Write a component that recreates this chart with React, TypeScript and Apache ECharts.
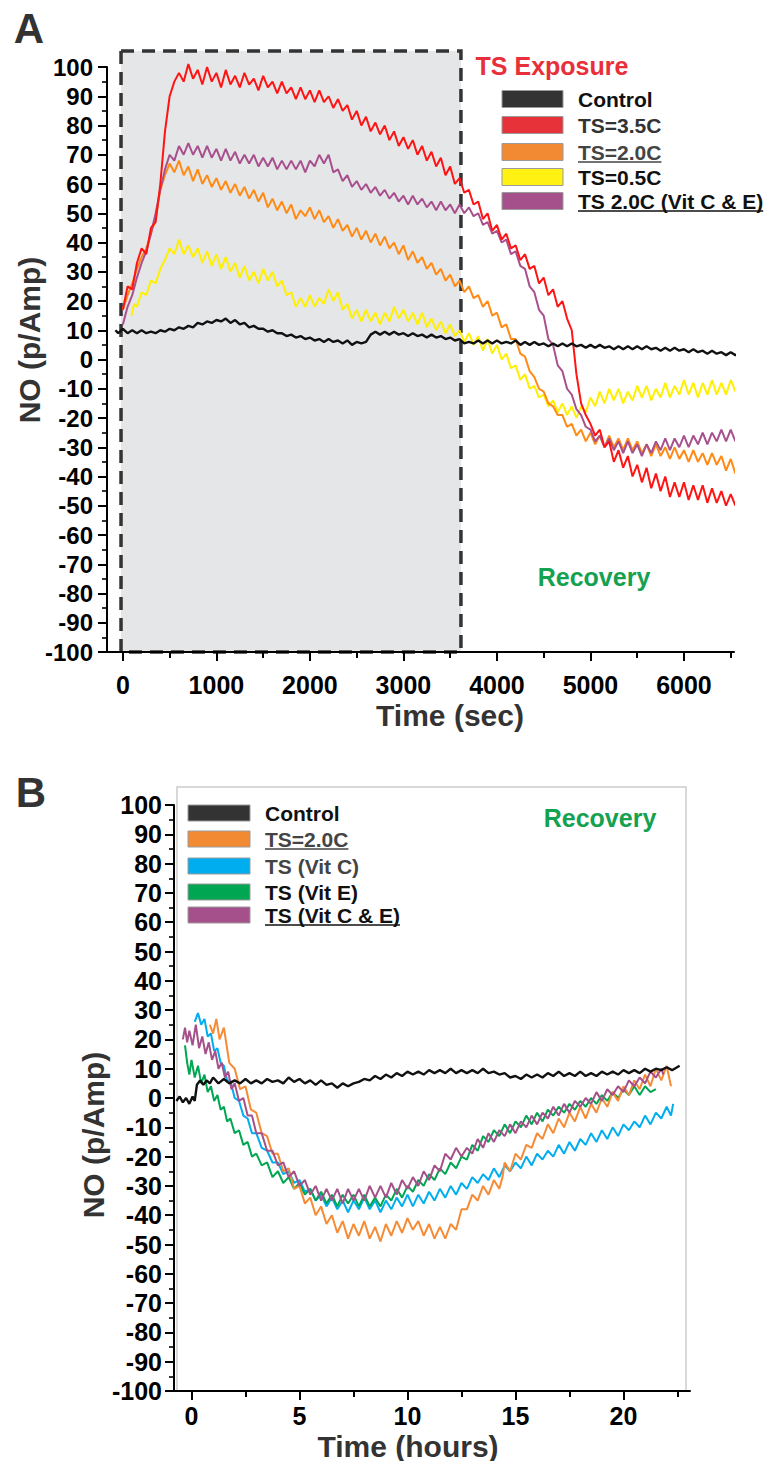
import React, { useEffect, useRef } from 'react';
import * as echarts from 'echarts';

const FONT = '"Liberation Sans", Arial, Helvetica, sans-serif';

// ---------------- Panel A (exposure) ----------------
const ticksA = [0, 1000, 2000, 3000, 4000, 5000, 6000];
const minorTicksA = [500, 1500, 2500, 3500, 4500, 5500, 6500];
const exposureWindow = [-20, 3615];
const exposureTop = 105.5;

const legendA = ['Control', 'TS=3.5C', 'TS=2.0C', 'TS=0.5C', 'TS 2.0C (Vit C & E)'];
const legendAColors = ['#333333', '#e8323a', '#f28a33', '#fff212', '#a5508a'];
const legendATextColors = ['#111111', '#333333', '#444444', '#111111', '#111111'];
const legendAUnderline = [false, false, true, false, true];

const controlA: [number, number][] = [[-80,10],[-50,9],[0,10.5],[50,9],[100,10],[150,9],[200,10],[250,9],[300,9.5],[350,9],[400,10],[450,9.5],[500,10.5],[550,10],[600,11],[650,10.5],[700,11.5],[750,11],[800,12.5],[850,12],[900,13],[950,12.5],[1000,13.5],[1050,13],[1100,14],[1150,12.5],[1200,13.5],[1250,12],[1300,12.5],[1350,11],[1400,11.5],[1450,10.5],[1500,10.5],[1550,9.5],[1600,10],[1650,9],[1700,9],[1750,8],[1800,8.5],[1850,7.5],[1900,8],[1950,7],[2000,7.5],[2050,6.5],[2100,7],[2150,6],[2200,7],[2250,6],[2300,6.5],[2350,5.5],[2400,6.5],[2450,5],[2500,6],[2550,5.5],[2600,6],[2650,8.5],[2700,9.5],[2750,8.5],[2800,9.5],[2850,8.5],[2900,9.5],[2950,8.5],[3000,9],[3050,8],[3100,9],[3150,8],[3200,8.5],[3250,7.5],[3300,8.5],[3350,7.5],[3400,8],[3450,7],[3500,7.5],[3550,6.5],[3600,7],[3650,5.5],[3700,6],[3750,5.5],[3800,6.5],[3850,5.5],[3900,6.5],[3950,5.5],[4000,6.5],[4050,5.5],[4100,6],[4150,5.5],[4200,6.5],[4250,5],[4300,6],[4350,5],[4400,6],[4450,5],[4500,5.5],[4550,4.5],[4600,5.5],[4650,4.5],[4700,5.5],[4750,4.5],[4800,5.5],[4850,4.5],[4900,5],[4950,4],[5000,5],[5050,4],[5100,5],[5150,4],[5200,4.5],[5250,3.5],[5300,4.5],[5350,3.5],[5400,4.5],[5450,3.5],[5500,4.5],[5550,3.5],[5600,4.5],[5650,3.5],[5700,4],[5750,3],[5800,4],[5850,3],[5900,4],[5950,3],[6000,3.5],[6050,2.5],[6100,3.5],[6150,2.5],[6200,3],[6250,2],[6300,3],[6350,2],[6400,2.5],[6450,1.5],[6500,2.5],[6550,1.5],[6600,2],[6650,1],[6680,1.5]];

const ts35A: [number, number][] = [[0,17],[50,25],[100,24],[150,33],[200,38],[250,36],[300,45],[350,47],[400,60],[450,78],[500,90],[550,95],[600,98],[650,95],[700,101],[750,96],[800,99],[850,94],[900,100],[950,95],[1000,98],[1050,93],[1100,99],[1150,94],[1200,97],[1250,93],[1300,98],[1350,94],[1400,96],[1450,92],[1500,97],[1550,93],[1600,95],[1650,91],[1700,95],[1750,91],[1800,93],[1850,89],[1900,93],[1950,89],[2000,92],[2050,88],[2100,92],[2150,88],[2200,90],[2250,86],[2300,89],[2350,85],[2400,87],[2450,82],[2500,85],[2550,80],[2600,83],[2650,78],[2700,81],[2750,77],[2800,80],[2850,75],[2900,78],[2950,73],[3000,76],[3050,72],[3100,75],[3150,70],[3200,73],[3250,68],[3300,71],[3350,66],[3400,69],[3450,63],[3500,66],[3550,60],[3600,62],[3650,57],[3700,58],[3750,53],[3800,54],[3850,48],[3900,50],[3950,44],[4000,46],[4050,41],[4100,43],[4150,38],[4200,39],[4250,34],[4300,36],[4350,31],[4400,32],[4450,26],[4500,28],[4550,22],[4600,24],[4650,18],[4700,20],[4750,14],[4800,10],[4850,-5],[4900,-15],[4950,-19],[5000,-22],[5050,-26],[5100,-24],[5150,-30],[5200,-28],[5250,-35],[5300,-31],[5350,-37],[5400,-33],[5450,-40],[5500,-36],[5550,-42],[5600,-37],[5650,-44],[5700,-39],[5750,-45],[5800,-40],[5850,-47],[5900,-42],[5950,-47],[6000,-42],[6050,-48],[6100,-43],[6150,-48],[6200,-43],[6250,-49],[6300,-44],[6350,-49],[6400,-45],[6450,-50],[6500,-46],[6550,-50]];

const ts20A: [number, number][] = [[0,17],[50,22],[100,26],[150,31],[200,35],[250,38],[300,43],[350,48],[400,58],[450,63],[500,67],[550,64],[600,68],[650,63],[700,66],[750,61],[800,65],[850,60],[900,63],[950,59],[1000,62],[1050,58],[1100,61],[1150,57],[1200,60],[1250,56],[1300,59],[1350,55],[1400,58],[1450,54],[1500,57],[1550,52],[1600,55],[1650,51],[1700,54],[1750,50],[1800,53],[1850,48],[1900,51],[1950,49],[2000,52],[2050,48],[2100,51],[2150,47],[2200,49],[2250,45],[2300,48],[2350,44],[2400,46],[2450,42],[2500,45],[2550,41],[2600,44],[2650,40],[2700,43],[2750,39],[2800,42],[2850,38],[2900,40],[2950,36],[3000,39],[3050,34],[3100,37],[3150,33],[3200,35],[3250,31],[3300,33],[3350,29],[3400,31],[3450,27],[3500,29],[3550,25],[3600,27],[3650,23],[3700,25],[3750,21],[3800,22],[3850,18],[3900,20],[3950,15],[4000,16],[4050,11],[4100,12],[4150,7],[4200,7],[4250,2],[4300,1],[4350,-4],[4400,-6],[4450,-10],[4500,-11],[4550,-15],[4600,-16],[4650,-19],[4700,-19],[4750,-23],[4800,-22],[4850,-26],[4900,-24],[4950,-28],[5000,-25],[5050,-29],[5100,-26],[5150,-30],[5200,-26],[5250,-30],[5300,-27],[5350,-31],[5400,-27],[5450,-31],[5500,-28],[5550,-32],[5600,-29],[5650,-33],[5700,-29],[5750,-33],[5800,-30],[5850,-34],[5900,-30],[5950,-34],[6000,-31],[6050,-35],[6100,-31],[6150,-35],[6200,-32],[6250,-36],[6300,-32],[6350,-36],[6400,-33],[6450,-38],[6500,-34],[6550,-39]];

const ts05A: [number, number][] = [[90,15],[120,19],[150,18],[200,23],[250,22],[300,27],[350,26],[400,31],[450,34],[500,38],[550,36],[600,41],[650,36],[700,39],[750,35],[800,38],[850,33],[900,37],[950,32],[1000,36],[1050,31],[1100,35],[1150,30],[1200,33],[1250,28],[1300,32],[1350,27],[1400,30],[1450,26],[1500,31],[1550,27],[1600,30],[1650,25],[1700,27],[1750,22],[1800,23],[1850,18],[1900,21],[1950,18],[2000,22],[2050,18],[2100,21],[2150,19],[2200,24],[2250,20],[2300,23],[2350,17],[2400,19],[2450,14],[2500,17],[2550,13],[2600,17],[2650,13],[2700,16],[2750,12],[2800,16],[2850,13],[2900,18],[2950,14],[3000,17],[3050,13],[3100,16],[3150,12],[3200,16],[3250,11],[3300,14],[3350,10],[3400,13],[3450,9],[3500,12],[3550,8],[3600,10],[3650,6],[3700,9],[3750,5],[3800,8],[3850,3],[3900,7],[3950,2],[4000,5],[4050,0],[4100,2],[4150,-3],[4200,-2],[4250,-7],[4300,-5],[4350,-10],[4400,-9],[4450,-13],[4500,-12],[4550,-16],[4600,-14],[4650,-18],[4700,-15],[4750,-19],[4800,-16],[4850,-20],[4900,-16],[4950,-18],[5000,-13],[5050,-16],[5100,-11],[5150,-15],[5200,-10],[5250,-14],[5300,-10],[5350,-15],[5400,-11],[5450,-14],[5500,-9],[5550,-13],[5600,-9],[5650,-14],[5700,-10],[5750,-13],[5800,-8],[5850,-13],[5900,-9],[5950,-12],[6000,-7],[6050,-12],[6100,-8],[6150,-13],[6200,-8],[6250,-12],[6300,-7],[6350,-12],[6400,-8],[6450,-12],[6500,-7],[6550,-11]];

const vitCEA: [number, number][] = [[0,12],[50,18],[100,22],[150,28],[200,33],[250,37],[300,43],[350,50],[400,58],[450,65],[500,70],[550,68],[600,73],[650,70],[700,74],[750,70],[800,73],[850,69],[900,73],[950,69],[1000,72],[1050,68],[1100,72],[1150,68],[1200,71],[1250,67],[1300,70],[1350,67],[1400,70],[1450,66],[1500,69],[1550,66],[1600,69],[1650,65],[1700,68],[1750,65],[1800,68],[1850,65],[1900,68],[1950,64],[2000,68],[2050,66],[2100,70],[2150,67],[2200,70],[2250,64],[2300,65],[2350,61],[2400,63],[2450,59],[2500,61],[2550,58],[2600,60],[2650,57],[2700,59],[2750,56],[2800,58],[2850,55],[2900,57],[2950,54],[3000,56],[3050,53],[3100,56],[3150,53],[3200,55],[3250,52],[3300,54],[3350,51],[3400,54],[3450,51],[3500,53],[3550,50],[3600,53],[3650,50],[3700,52],[3750,49],[3800,50],[3850,46],[3900,47],[3950,43],[4000,44],[4050,40],[4100,41],[4150,36],[4200,37],[4250,32],[4300,31],[4350,25],[4400,23],[4450,17],[4500,15],[4550,7],[4600,5],[4650,-2],[4700,-4],[4750,-10],[4800,-12],[4850,-17],[4900,-19],[4950,-23],[5000,-24],[5050,-28],[5100,-26],[5150,-30],[5200,-27],[5250,-31],[5300,-28],[5350,-32],[5400,-28],[5450,-32],[5500,-29],[5550,-33],[5600,-29],[5650,-32],[5700,-28],[5750,-31],[5800,-27],[5850,-31],[5900,-27],[5950,-30],[6000,-26],[6050,-30],[6100,-26],[6150,-29],[6200,-25],[6250,-29],[6300,-25],[6350,-28],[6400,-24],[6450,-28],[6500,-24],[6550,-28]];

// ---------------- Panel B (recovery) ----------------
const ticksB = [0, 5, 10, 15, 20];
const minorTicksB = [2.5, 7.5, 12.5, 17.5, 22.5];

const legendB = ['Control', 'TS=2.0C', 'TS (Vit C)', 'TS (Vit E)', 'TS (Vit C & E)'];
const legendBColors = ['#333333', '#f28a33', '#00aeef', '#00a651', '#a5508a'];
const legendBTextColors = ['#111111', '#444444', '#444444', '#111111', '#111111'];
const legendBUnderline = [false, true, false, false, true];

const controlB: [number, number][] = [[-0.7,-1],[-0.55,0.5],[-0.4,-1.5],[-0.25,0],[-0.1,-2],[0.05,0.5],[0.15,-1],[0.25,4.5],[0.4,6],[0.55,4.5],[0.7,6],[0.85,5],[1.0,7],[1.25,5],[1.5,6.5],[1.75,5],[2.0,6],[2.25,5],[2.5,6.5],[2.75,5],[3.0,6],[3.25,5],[3.5,6.5],[3.75,5.5],[4.0,6],[4.25,5],[4.5,7],[4.75,5.5],[5.0,6.5],[5.25,5],[5.5,6],[5.75,4.5],[6.0,6],[6.25,4.5],[6.5,5],[6.75,3.5],[7.0,5],[7.25,4],[7.5,5],[7.75,5.5],[8.0,6.5],[8.25,6],[8.5,7.5],[8.75,6.5],[9.0,8],[9.25,7],[9.5,8.5],[9.75,7.5],[10.0,9],[10.25,8],[10.5,9],[10.75,8],[11.0,9.5],[11.25,8.5],[11.5,9.5],[11.75,8.5],[12.0,10],[12.25,8.5],[12.5,9.5],[12.75,8.5],[13.0,9.5],[13.25,8.5],[13.5,10],[13.75,8.5],[14.0,9],[14.25,8],[14.5,8.5],[14.75,7],[15.0,7.5],[15.25,6.5],[15.5,8],[15.75,7],[16.0,8],[16.25,7],[16.5,8.5],[16.75,7.5],[17.0,9],[17.25,7.5],[17.5,8.5],[17.75,7.5],[18.0,9],[18.25,7.5],[18.5,8.5],[18.75,7.5],[19.0,9],[19.25,8],[19.5,9],[19.75,8],[20.0,9.5],[20.25,8.5],[20.5,9.5],[20.75,8.5],[21.0,10],[21.25,9],[21.5,10],[21.75,9.5],[22.0,10.5],[22.25,9.5],[22.6,11]];

const ts20B: [number, number][] = [[0.85,25],[1.0,22],[1.15,27],[1.3,20],[1.5,24],[1.75,12],[2.0,10],[2.25,3],[2.5,4],[2.75,-4],[3.0,-5],[3.25,-12],[3.5,-13],[3.75,-19],[4.0,-19],[4.25,-25],[4.5,-24],[4.75,-31],[5.0,-30],[5.25,-36],[5.5,-34],[5.75,-40],[6.0,-37],[6.25,-43],[6.5,-40],[6.75,-46],[7.0,-42],[7.25,-48],[7.5,-43],[7.75,-47],[8.0,-42],[8.25,-48],[8.5,-44],[8.75,-49],[9.0,-43],[9.25,-47],[9.5,-42],[9.75,-46],[10.0,-41],[10.25,-45],[10.5,-42],[10.75,-47],[11.0,-43],[11.25,-48],[11.5,-44],[11.75,-48],[12.0,-43],[12.25,-45],[12.5,-38],[12.75,-38],[13.0,-33],[13.25,-35],[13.5,-30],[13.75,-33],[14.0,-28],[14.25,-31],[14.4,-27],[14.5,-22],[14.75,-25],[15.0,-19],[15.25,-21],[15.5,-16],[15.75,-17],[16.0,-12],[16.25,-14],[16.5,-9],[16.75,-12],[17.0,-7],[17.25,-10],[17.5,-5],[17.75,-8],[18.0,-3],[18.25,-7],[18.5,-2],[18.75,-5],[19.0,0],[19.25,-3],[19.5,2],[19.75,-1],[20.0,4],[20.25,1],[20.5,6],[20.75,3],[21.0,8],[21.25,4],[21.5,10],[21.75,6],[22.0,11],[22.2,4]];

const vitCB: [number, number][] = [[0.15,26],[0.3,29],[0.45,25],[0.6,27],[0.75,21],[0.9,22],[1.05,16],[1.2,17],[1.35,12],[1.5,11],[1.65,6],[1.8,6],[2.0,0],[2.2,-1],[2.4,-6],[2.6,-7],[2.8,-12],[3.0,-12],[3.25,-17],[3.5,-18],[3.75,-22],[4.0,-22],[4.25,-26],[4.5,-25],[4.75,-29],[5.0,-28],[5.25,-32],[5.5,-31],[5.75,-35],[6.0,-33],[6.25,-37],[6.5,-34],[6.75,-38],[7.0,-35],[7.25,-39],[7.5,-35],[7.75,-38],[8.0,-34],[8.25,-38],[8.5,-35],[8.75,-39],[9.0,-35],[9.25,-38],[9.5,-34],[9.75,-37],[10.0,-33],[10.25,-37],[10.5,-33],[10.75,-36],[11.0,-32],[11.25,-35],[11.5,-31],[11.75,-34],[12.0,-30],[12.25,-33],[12.5,-29],[12.75,-31],[13.0,-27],[13.25,-29],[13.5,-26],[13.75,-28],[14.0,-24],[14.25,-27],[14.5,-23],[14.75,-25],[15.0,-22],[15.25,-24],[15.5,-20],[15.75,-23],[16.0,-19],[16.25,-21],[16.5,-18],[16.75,-20],[17.0,-16],[17.25,-19],[17.5,-15],[17.75,-18],[18.0,-14],[18.25,-16],[18.5,-12],[18.75,-15],[19.0,-11],[19.25,-14],[19.5,-10],[19.75,-13],[20.0,-9],[20.25,-11],[20.5,-8],[20.75,-10],[21.0,-6],[21.25,-9],[21.5,-5],[21.75,-7],[22.0,-3],[22.2,-6],[22.3,-2]];

const vitEB: [number, number][] = [[-0.3,18],[-0.2,12],[-0.1,8],[0.0,13],[0.15,7],[0.3,11],[0.45,5],[0.6,8],[0.75,2],[0.9,4],[1.05,-1],[1.2,1],[1.35,-4],[1.5,-3],[1.65,-8],[1.8,-7],[2.0,-12],[2.2,-11],[2.4,-16],[2.6,-15],[2.8,-20],[3.0,-19],[3.25,-23],[3.5,-22],[3.75,-27],[4.0,-25],[4.25,-29],[4.5,-27],[4.75,-31],[5.0,-29],[5.25,-33],[5.5,-31],[5.75,-35],[6.0,-32],[6.25,-36],[6.5,-33],[6.75,-37],[7.0,-33],[7.25,-36],[7.5,-33],[7.75,-37],[8.0,-33],[8.25,-37],[8.5,-34],[8.75,-37],[9.0,-33],[9.25,-35],[9.5,-31],[9.75,-34],[10.0,-30],[10.25,-32],[10.5,-28],[10.75,-30],[11.0,-26],[11.25,-28],[11.5,-24],[11.75,-26],[12.0,-22],[12.25,-24],[12.5,-20],[12.75,-21],[13.0,-16],[13.25,-18],[13.5,-13],[13.75,-15],[14.0,-11],[14.25,-13],[14.5,-9],[14.75,-12],[15.0,-8],[15.25,-10],[15.5,-6],[15.75,-9],[16.0,-5],[16.25,-8],[16.5,-4],[16.75,-6],[17.0,-3],[17.25,-5],[17.5,-2],[17.75,-4],[18.0,-1],[18.25,-3],[18.5,0],[18.75,-2],[19.0,1],[19.25,-1],[19.5,2],[19.75,0],[20.0,3],[20.25,1],[20.5,4],[20.75,1],[21.0,4],[21.25,2],[21.5,3]];

const vitCEB: [number, number][] = [[-0.4,20],[-0.3,24],[-0.2,19],[-0.1,23],[0.05,18],[0.2,25],[0.35,17],[0.5,21],[0.65,15],[0.8,19],[0.95,13],[1.1,16],[1.25,10],[1.4,12],[1.55,7],[1.7,9],[1.85,3],[2.0,5],[2.2,-1],[2.4,0],[2.6,-6],[2.8,-6],[3.0,-12],[3.25,-12],[3.5,-18],[3.75,-18],[4.0,-23],[4.25,-22],[4.5,-27],[4.75,-25],[5.0,-30],[5.25,-28],[5.5,-33],[5.75,-30],[6.0,-35],[6.25,-31],[6.5,-35],[6.75,-31],[7.0,-36],[7.25,-31],[7.5,-35],[7.75,-31],[8.0,-35],[8.25,-30],[8.5,-34],[8.75,-30],[9.0,-34],[9.25,-29],[9.5,-33],[9.75,-28],[10.0,-31],[10.25,-27],[10.5,-30],[10.75,-25],[11.0,-28],[11.25,-23],[11.5,-25],[11.75,-19],[12.0,-21],[12.25,-17],[12.5,-20],[12.75,-17],[13.0,-19],[13.25,-14],[13.5,-17],[13.75,-12],[14.0,-15],[14.25,-11],[14.5,-13],[14.75,-9],[15.0,-12],[15.25,-8],[15.5,-10],[15.75,-6],[16.0,-9],[16.25,-5],[16.5,-7],[16.75,-3],[17.0,-6],[17.25,-2],[17.5,-5],[17.75,-1],[18.0,-3],[18.25,0],[18.5,-2],[18.75,2],[19.0,-1],[19.25,3],[19.5,1],[19.75,4],[20.0,2],[20.25,6],[20.5,4],[20.75,7],[21.0,5],[21.25,9],[21.5,7],[21.75,10],[21.85,8]];

// ---------------- helpers ----------------
const lineSeries = (name: string, data: [number, number][], color: string, width: number, xi: number, yi: number) => ({
  name,
  type: 'line',
  data,
  xAxisIndex: xi,
  yAxisIndex: yi,
  symbol: 'none',
  showSymbol: false,
  clip: false,
  silent: true,
  lineStyle: { color, width },
  itemStyle: { color },
});

const labelStyle = { color: '#000', fontFamily: FONT, fontWeight: 'bold' as const };
const blackLine = { color: '#000', width: 2 };
const plain = (v: number) => String(v);

const xAxisPair = (grid: number, min: number, max: number, major: number[], minor: number[], fontSize: number, margin: number) => [
  {
    gridIndex: grid, type: 'value', min, max, position: 'bottom',
    axisLine: { show: true, onZero: false, lineStyle: blackLine },
    axisTick: { show: true, customValues: major, length: 9, lineStyle: blackLine },
    axisLabel: { show: true, customValues: major, fontSize, margin, formatter: plain, ...labelStyle },
    splitLine: { show: false },
  },
  {
    gridIndex: grid, type: 'value', min, max, position: 'bottom',
    axisLine: { show: false, onZero: false },
    axisTick: { show: true, customValues: minor, length: 6, lineStyle: blackLine },
    axisLabel: { show: false },
    splitLine: { show: false },
  },
];

const yAxisDef = (grid: number, fontSize: number, margin: number) => ({
  gridIndex: grid, type: 'value', min: -100, max: 100, interval: 10, position: 'left',
  axisLine: { show: true, onZero: false, lineStyle: blackLine },
  axisTick: { show: true, length: 9, lineStyle: blackLine },
  minorTick: { show: true, splitNumber: 2, length: 5, lineStyle: { color: '#000', width: 1.6 } },
  axisLabel: { fontSize, margin, formatter: plain, ...labelStyle },
  splitLine: { show: false },
  minorSplitLine: { show: false },
});

function measure(text: string, font: string): number {
  const ctx = document.createElement('canvas').getContext('2d');
  if (!ctx) return text.length * 11;
  ctx.font = font;
  return ctx.measureText(text).width;
}

function legendGraphics(prefix: string, labels: string[], colors: string[], textColors: string[], underline: boolean[], swX: number, swW: number, swH: number, textX: number, rows: number[]) {
  const out: any[] = [];
  const fs = 21;
  const font = `bold ${fs}px ${FONT}`;
  labels.forEach((lab, i) => {
    const y = rows[i];
    out.push({ type: 'rect', id: `${prefix}sw${i}`, z: 20, shape: { x: swX, y: y - swH / 2, width: swW, height: swH }, style: { fill: colors[i], stroke: '#9a9a9a', lineWidth: 1 } });
    out.push({ type: 'text', id: `${prefix}tx${i}`, z: 20, x: textX, y, style: { text: lab, fill: textColors[i], fontSize: fs, fontWeight: 'bold', fontFamily: FONT, align: 'left', verticalAlign: 'middle' } });
    if (underline[i]) {
      const w = measure(lab, font);
      out.push({ type: 'line', id: `${prefix}ul${i}`, z: 20, shape: { x1: textX, y1: y + 10, x2: textX + w, y2: y + 10 }, style: { stroke: textColors[i], lineWidth: 1.6 } });
    }
  });
  return out;
}

const text = (id: string, str: string, x: number, y: number, size: number, color: string, rotation = 0) => ({
  type: 'text', id, x, y, rotation, z: 20,
  style: { text: str, fill: color, fontSize: size, fontWeight: 'bold', fontFamily: FONT, align: 'center', verticalAlign: 'middle' },
});

export default function App() {
  const ref = useRef<HTMLDivElement>(null);
  useEffect(() => {
    if (!ref.current) return;
    const chart = echarts.init(ref.current, null, { renderer: 'svg' });
    const option: any = {
      animation: false,
      backgroundColor: '#ffffff',
      grid: [
        { left: 107, top: 67, width: 627, height: 585, containLabel: false },
        { left: 174, top: 805, width: 516, height: 586, containLabel: false },
      ],
      xAxis: [
        ...xAxisPair(0, -170, 6535, ticksA, minorTicksA, 25, 20),
        ...xAxisPair(1, -0.81, 23.08, ticksB, minorTicksB, 25, 12),
      ],
      yAxis: [yAxisDef(0, 24, 14), yAxisDef(1, 25, 12)],
      series: [
        lineSeries('TS=0.5C', ts05A, '#fff000', 2, 0, 0),
        lineSeries('TS=2.0C', ts20A, '#ff8a14', 2, 0, 0),
        lineSeries('TS 2.0C (Vit C & E)', vitCEA, '#a8508e', 2, 0, 0),
        lineSeries('TS=3.5C', ts35A, '#ff1414', 2, 0, 0),
        lineSeries('Control', controlA, '#111111', 2.4, 0, 0),
        lineSeries('TS (Vit C)', vitCB, '#00aeef', 2, 2, 1),
        lineSeries('TS (Vit E)', vitEB, '#00a651', 2, 2, 1),
        lineSeries('TS=2.0C', ts20B, '#f68b36', 2, 2, 1),
        lineSeries('TS (Vit C & E)', vitCEB, '#a5508a', 2, 2, 1),
        lineSeries('Control', controlB, '#111111', 2.4, 2, 1),
      ],
    };
    chart.setOption(option);

    const p0 = chart.convertToPixel({ xAxisIndex: 0, yAxisIndex: 0 }, [exposureWindow[0], -100]) as number[];
    const p1 = chart.convertToPixel({ xAxisIndex: 0, yAxisIndex: 0 }, [exposureWindow[1], exposureTop]) as number[];

    const graphics: any[] = [
      {
        type: 'rect', id: 'exposure', z: -1,
        shape: { x: p0[0], y: p1[1], width: p1[0] - p0[0], height: p0[1] - p1[1] },
        style: { fill: '#e5e6e8', stroke: '#333333', lineWidth: 3.5, lineDash: [13, 8] },
      },
      {
        type: 'rect', id: 'frameB', z: -1,
        shape: { x: 177, y: 787, width: 509, height: 604 },
        style: { fill: 'none', stroke: '#cccccc', lineWidth: 1.5 },
      },
      text('lblA', 'A', 29, 28, 42, '#333333'),
      text('lblB', 'B', 31, 792, 42, '#333333'),
      text('tsExp', 'TS Exposure', 552, 66, 25, '#e8303a'),
      text('recA', 'Recovery', 594, 577, 25, '#14a150'),
      text('recB', 'Recovery', 600, 818, 25, '#14a150'),
      text('yTitleA', 'NO (p/Amp)', 29, 340, 30, '#333333', Math.PI / 2),
      text('yTitleB', 'NO (p/Amp)', 93, 1135, 30, '#333333', Math.PI / 2),
      text('xTitleA', 'Time (sec)', 450, 715, 30, '#333333'),
      text('xTitleB', 'Time (hours)', 408, 1446, 30, '#333333'),
      ...legendGraphics('la', legendA, legendAColors, legendATextColors, legendAUnderline, 502, 61, 17, 578, [99, 125, 152, 177, 201]),
      ...legendGraphics('lb', legendB, legendBColors, legendBTextColors, legendBUnderline, 188, 62, 16, 265, [813, 839, 866, 892, 915]),
    ];
    chart.setOption({ graphic: graphics });

    return () => chart.dispose();
  }, []);

  return <div ref={ref} style={{ position: 'absolute', left: 0, top: 0, width: 771, height: 1461, background: '#fff' }} />;
}
